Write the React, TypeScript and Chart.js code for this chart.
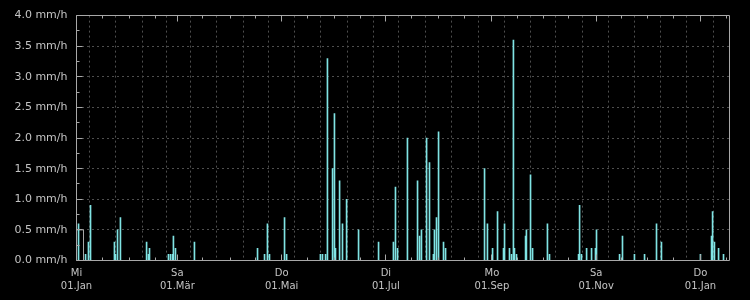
import React, { useEffect, useRef } from "react";
import { Chart, registerables } from "chart.js";

Chart.register(...registerables);

// Day offset from 01.Jan 2025 (day 0) for each rain-rate peak
const rainDays = [1.2, 5.3, 7.0, 8.2, 22.2, 22.8, 24.0, 25.7, 41.0, 42.1, 42.7, 53.8, 55.0, 56.2, 56.7, 57.9, 69.0, 105.9, 110.0, 111.7, 112.9, 121.7, 122.9, 142.7, 143.9, 145.7, 146.8, 149.8, 150.9, 151.5, 153.9, 155.6, 158.0, 165.0, 176.7, 185.4, 186.6, 187.8, 193.6, 199.5, 200.7, 201.8, 204.8, 206.5, 208.8, 209.4, 210.6, 211.8, 214.7, 215.9, 238.7, 240.4, 243.4, 246.3, 249.8, 250.4, 253.3, 254.5, 255.6, 256.2, 257.4, 262.7, 263.2, 265.6, 266.8, 275.5, 276.7, 293.7, 294.3, 295.4, 298.4, 301.3, 303.6, 304.2, 317.7, 319.4, 326.4, 332.3, 339.3, 342.2, 365.0, 371.5, 372.1, 373.2, 375.6, 378.5];
// Rain rate in mm/h
const rainRates = [0.6, 0.1, 0.3, 0.9, 0.3, 0.1, 0.5, 0.7, 0.3, 0.1, 0.2, 0.1, 0.1, 0.1, 0.4, 0.2, 0.3, 0.2, 0.1, 0.6, 0.1, 0.7, 0.1, 0.1, 0.1, 0.1, 3.3, 1.5, 2.4, 0.2, 1.3, 0.6, 1.0, 0.5, 0.3, 0.3, 1.2, 0.2, 2.0, 1.3, 0.4, 0.5, 2.0, 1.6, 0.1, 0.5, 0.7, 2.1, 0.3, 0.2, 1.5, 0.6, 0.2, 0.8, 0.2, 0.6, 0.2, 0.1, 3.6, 0.2, 0.1, 0.4, 0.5, 1.4, 0.2, 0.6, 0.1, 0.1, 0.9, 0.1, 0.2, 0.2, 0.2, 0.5, 0.1, 0.4, 0.1, 0.1, 0.6, 0.3, 0.1, 0.4, 0.8, 0.3, 0.2, 0.1];

// Grey outlined block at the start of the period
const blockDays = [0, 4.1, 4.1];
const blockRates = [0.5, 0.5, 0];

// X axis: gridlines on the 1st and 16th of every month
const gridDays = [0, 15, 31, 46, 59, 74, 90, 105, 120, 135, 151, 166, 181, 196, 212, 227, 243, 258, 273, 288, 304, 319, 334, 349, 365, 380];
const majorDays = [0, 59, 120, 181, 243, 304, 365];
const majorLabels = [
  ["Mi", "01.Jan"],
  ["Sa", "01.Mär"],
  ["Do", "01.Mai"],
  ["Di", "01.Jul"],
  ["Mo", "01.Sep"],
  ["Sa", "01.Nov"],
  ["Do", "01.Jan"],
];
const xMin = 0;
const xMax = 382;

const yMin = 0;
const yMax = 4;
const yStep = 0.5;
const yMinorStep = 0.25;
const yUnit = "mm/h";

const BAR = "#80e4e4";
const FRAME = "#a8a8a8";
const GRID = "#4e4e4e";
const TEXT = "#c4c4c4";
const FONT = "'DejaVu Sans', sans-serif";

const framePlugin = {
  id: "frame",
  afterDraw(chart: any) {
    const { ctx, chartArea: a, scales } = chart;
    const xs = scales.x;
    const ys = scales.y;
    const L = Math.floor(a.left) + 0.5;
    const R = Math.floor(a.right) + 0.5;
    const T = Math.floor(a.top) + 0.5;
    const B = Math.floor(a.bottom) + 0.5;
    ctx.save();
    ctx.strokeStyle = FRAME;
    ctx.lineWidth = 1;
    ctx.setLineDash([]);
    ctx.beginPath();
    ctx.rect(L, T, R - L, B - T);
    gridDays.forEach((d) => {
      const px = Math.round(xs.getPixelForValue(d) - 0.5) + 0.5;
      const len = majorDays.includes(d) ? 6 : 3;
      ctx.moveTo(px, T);
      ctx.lineTo(px, T + len);
      ctx.moveTo(px, B);
      ctx.lineTo(px, B - len);
    });
    for (let v = yMin; v <= yMax + 1e-9; v += yMinorStep) {
      const py = Math.round(ys.getPixelForValue(v) - 0.5) + 0.5;
      const major = Math.abs(v / yStep - Math.round(v / yStep)) < 1e-6;
      const len = major ? 6 : 3;
      ctx.moveTo(L, py);
      ctx.lineTo(L + len, py);
    }
    ctx.stroke();
    ctx.restore();
  },
};

export default function App() {
  const ref = useRef<HTMLCanvasElement | null>(null);

  useEffect(() => {
    document.body.style.margin = "0";
    document.body.style.background = "#000";
    const canvas = ref.current;
    if (!canvas) return;
    const chart = new Chart(canvas, {
      type: "bar",
      data: {
        datasets: [
          {
            type: "bar",
            data: rainDays.map((d, i) => ({ x: d, y: rainRates[i] })),
            backgroundColor: BAR,
            borderWidth: 0,
            barThickness: 1,
            grouped: false,
          } as any,
          {
            type: "line",
            data: blockDays.map((d, i) => ({ x: d, y: blockRates[i] })),
            borderColor: FRAME,
            borderWidth: 1,
            pointRadius: 0,
            fill: false,
            tension: 0,
          } as any,
        ],
      },
      options: {
        animation: false,
        responsive: false,
        devicePixelRatio: 1,
        layout: { padding: { left: 0, top: 13.5, right: 20.5, bottom: 0 } },
        plugins: { legend: { display: false }, tooltip: { enabled: false } },
        scales: {
          x: {
            type: "linear",
            min: xMin,
            max: xMax,
            offset: false,
            afterBuildTicks: (scale: any) => {
              scale.ticks = gridDays.map((v) => ({ value: v }));
            },
            afterFit: (scale: any) => {
              scale.height = 39.5;
            },
            ticks: {
              autoSkip: false,
              maxRotation: 0,
              minRotation: 0,
              padding: 6,
              color: TEXT,
              font: { family: FONT, size: 10, lineHeight: "13px" } as any,
              callback: (value: any) => {
                const i = majorDays.indexOf(Number(value));
                return i >= 0 ? majorLabels[i] : "";
              },
            },
            grid: { color: GRID, drawTicks: false, lineWidth: 1 },
            border: { display: false, dash: [2, 3] },
          },
          y: {
            type: "linear",
            min: yMin,
            max: yMax,
            afterFit: (scale: any) => {
              scale.width = 76.5;
            },
            ticks: {
              stepSize: yStep,
              padding: 9,
              color: TEXT,
              font: { family: FONT, size: 11 },
              callback: (value: any) => Number(value).toFixed(1) + " " + yUnit,
            },
            grid: { color: GRID, drawTicks: false, lineWidth: 1 },
            border: { display: false, dash: [2, 3] },
          },
        },
      },
      plugins: [framePlugin],
    });
    return () => chart.destroy();
  }, []);

  return (
    <div style={{ width: 750, height: 300, background: "#000" }}>
      <canvas ref={ref} width={750} height={300} style={{ display: "block" }} />
    </div>
  );
}
